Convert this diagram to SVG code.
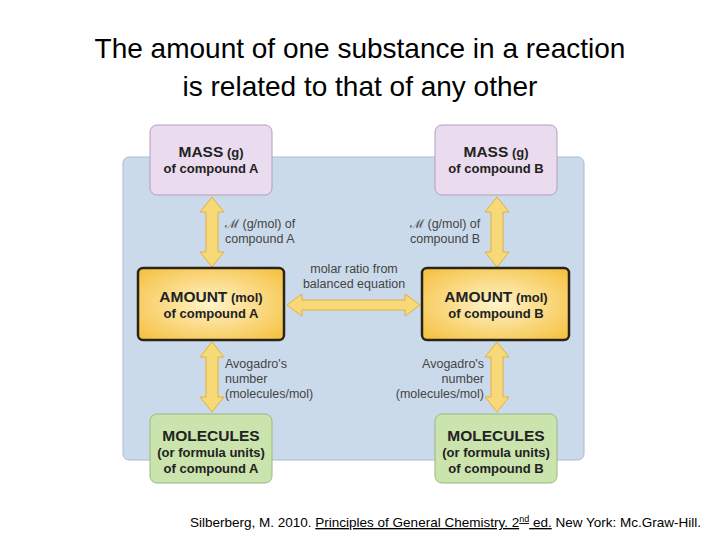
<svg xmlns="http://www.w3.org/2000/svg" width="720" height="540" viewBox="0 0 720 540">
<defs>
<radialGradient id="amt" cx="0.5" cy="0.5" r="0.7"><stop offset="0" stop-color="#fff3c8"/><stop offset="1" stop-color="#f5bf3c"/></radialGradient>
<style>
.t{font-family:"Liberation Sans",Arial,sans-serif;fill:#222}
.b{font-weight:bold;font-size:15.5px}
.s{font-weight:bold;font-size:13px}
.l{font-size:12.5px;fill:#444}
.arr{fill:#f8d978;stroke:#e0b040;stroke-width:1}
</style>
</defs>
<rect width="720" height="540" fill="#fff"/>
<text x="360" y="58" font-family="Liberation Sans,Arial,sans-serif" font-size="28" fill="#000" text-anchor="middle">The amount of one substance in a reaction</text>
<text x="360" y="96" font-family="Liberation Sans,Arial,sans-serif" font-size="28" fill="#000" text-anchor="middle">is related to that of any other</text>
<rect x="123" y="157" width="461" height="303" rx="6" fill="#cbdaea" stroke="#a9bccf"/>
<g id="connectors">
<polygon class="arr" points="212,197 224,212 218,212 218,252 224,252 212,267 200,252 206,252 206,212 200,212"/>
<polygon class="arr" points="497,197 509,212 503,212 503,252 509,252 497,267 485,252 491,252 491,212 485,212"/>
<polygon class="arr" points="212,342 224,357 218,357 218,397 224,397 212,412 200,397 206,397 206,357 200,357"/>
<polygon class="arr" points="497,342 509,357 503,357 503,397 509,397 497,412 485,397 491,397 491,357 485,357"/>
<polygon class="arr" points="287,305 302,294 302,300 405,300 405,294 420,305 405,316 405,310 302,310 302,316"/>
</g>
<text class="t l" x="225" y="228">ℳ (g/mol) of</text>
<text class="t l" x="225" y="243">compound A</text>
<text class="t l" x="410" y="228">ℳ (g/mol) of</text>
<text class="t l" x="410" y="243">compound B</text>
<text class="t l" x="354" y="273" text-anchor="middle">molar ratio from</text>
<text class="t l" x="354" y="288" text-anchor="middle">balanced equation</text>
<text class="t l" x="225" y="368">Avogadro's</text>
<text class="t l" x="225" y="383">number</text>
<text class="t l" x="225" y="398">(molecules/mol)</text>
<text class="t l" x="484" y="368" text-anchor="end">Avogadro's</text>
<text class="t l" x="484" y="383" text-anchor="end">number</text>
<text class="t l" x="484" y="398" text-anchor="end">(molecules/mol)</text>
<g id="massA"><rect x="150" y="125" width="122" height="70" rx="7" fill="#eadcee" stroke="#b49cc0"/>
<text class="t" x="211" y="157" text-anchor="middle"><tspan class="b">MASS</tspan><tspan class="s"> (g)</tspan></text>
<text class="t s" x="211" y="173" text-anchor="middle">of compound A</text></g>
<g id="massB"><rect x="435" y="125" width="122" height="70" rx="7" fill="#eadcee" stroke="#b49cc0"/>
<text class="t" x="496" y="157" text-anchor="middle"><tspan class="b">MASS</tspan><tspan class="s"> (g)</tspan></text>
<text class="t s" x="496" y="173" text-anchor="middle">of compound B</text></g>
<g id="amountA"><rect x="138" y="268" width="146" height="72" rx="5" fill="url(#amt)" stroke="#2a2418" stroke-width="2.5"/>
<text class="t" x="211" y="302" text-anchor="middle"><tspan class="b">AMOUNT</tspan><tspan class="s"> (mol)</tspan></text>
<text class="t s" x="211" y="318" text-anchor="middle">of compound A</text></g>
<g id="amountB"><rect x="422" y="268" width="147" height="72" rx="5" fill="url(#amt)" stroke="#2a2418" stroke-width="2.5"/>
<text class="t" x="496" y="302" text-anchor="middle"><tspan class="b">AMOUNT</tspan><tspan class="s"> (mol)</tspan></text>
<text class="t s" x="496" y="318" text-anchor="middle">of compound B</text></g>
<g id="molA"><rect x="150" y="414" width="122" height="69" rx="7" fill="#cbe3ad" stroke="#98b880"/>
<text class="t b" x="211" y="441" text-anchor="middle">MOLECULES</text>
<text class="t s" x="211" y="457" text-anchor="middle">(or formula units)</text>
<text class="t s" x="211" y="473" text-anchor="middle">of compound A</text></g>
<g id="molB"><rect x="435" y="414" width="122" height="69" rx="7" fill="#cbe3ad" stroke="#98b880"/>
<text class="t b" x="496" y="441" text-anchor="middle">MOLECULES</text>
<text class="t s" x="496" y="457" text-anchor="middle">(or formula units)</text>
<text class="t s" x="496" y="473" text-anchor="middle">of compound B</text></g>
<text x="190" y="527" font-family="Liberation Sans,Arial,sans-serif" font-size="13.5" fill="#000">Silberberg, M. 2010. <tspan text-decoration="underline">Principles of General Chemistry. 2<tspan font-size="9" dy="-5">nd</tspan><tspan dy="5"> ed.</tspan></tspan> New York: Mc.Graw-Hill.</text>
</svg>
